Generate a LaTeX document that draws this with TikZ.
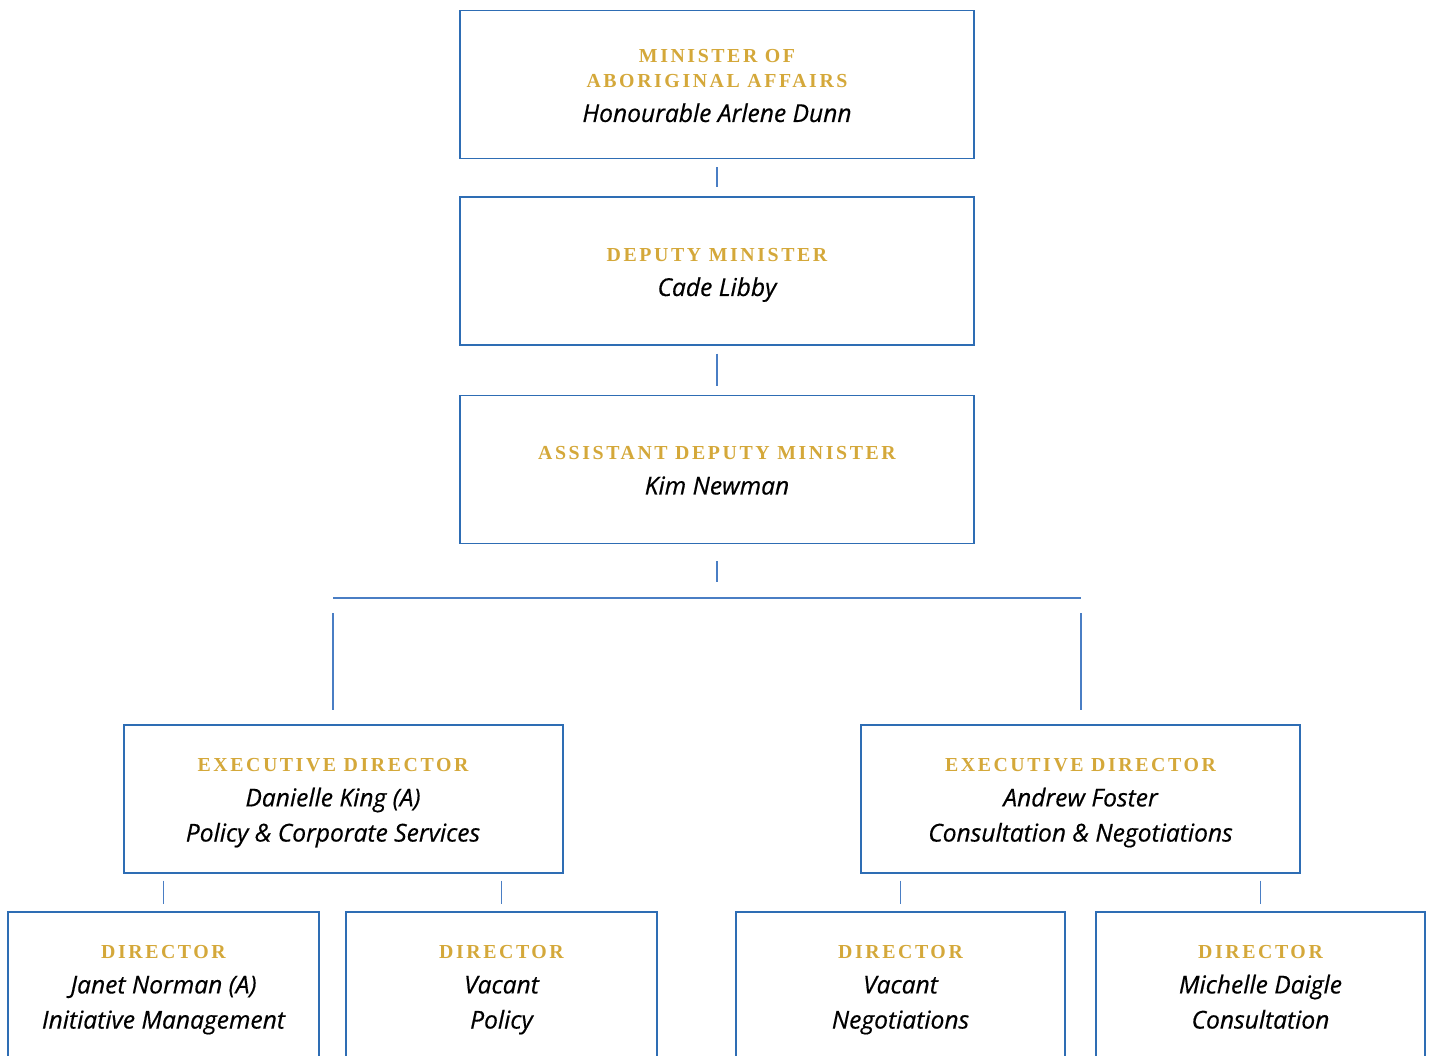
\documentclass[tikz,border=0pt]{standalone}
\usepackage{fontspec}
\setmainfont{Open Sans}
\newfontfamily\rolefont[LetterSpace=13]{Liberation Serif}
\newfontfamily\whofont[FakeBold=0.5]{Open Sans}
\usetikzlibrary{positioning}
\definecolor{rolegold}{HTML}{D4A83A}
\definecolor{boxblue}{HTML}{2E6DB4}
\definecolor{linkblue}{HTML}{4A7EC4}
\newcommand\role[1]{{\rolefont\bfseries\fontsize{11.3}{14.2}\selectfont\color{rolegold}\rule{0pt}{12pt}#1}}
\newcommand\who[1]{{\whofont\itshape\fontsize{14}{14.2}\selectfont #1\vphantom{Ag}}}
\tikzset{main box/.style={draw=boxblue,line width=0.8pt,minimum width=#1*0.02cm,minimum height=148*0.02cm,align=center,inner sep=0pt,font=\fontsize{10.8}{14.2}\selectfont},
  box text/.style={align=center,inner sep=0pt,font=\fontsize{10.8}{14.2}\selectfont},
  link/.style={draw=linkblue,line width=0.6pt},
}

\begin{document}
\begin{tikzpicture}[x=0.02cm,y=-0.02cm]
		\useasboundingbox (0,0) rectangle (1430,1055);
		\clip (0,0) rectangle (1430,1055);
		\node[main box=514] (min) at (717,84.5) {\role{MINISTER OF}\\\role{ABORIGINAL AFFAIRS}\\[5.6pt]\who{Honourable Arlene Dunn}};
		\node[main box=514] (dep) at (717,271) {\role{DEPUTY MINISTER}\\[5.6pt]\who{Cade Libby}};
		\node[main box=514] (adm) at (717,469.5) {\role{ASSISTANT DEPUTY MINISTER}\\[5.6pt]\who{Kim Newman}};
		\node[main box=439] (edl) at (343.5,799) {};
		\node[box text] (edltext) at (333,799) {\role{EXECUTIVE DIRECTOR}\\[5.6pt]\who{Danielle King (A)}\\[5.8pt]\who{Policy \& Corporate Services}};
		\node[main box=439] (edr) at (1080.5,799) {\role{EXECUTIVE DIRECTOR}\\[5.6pt]\who{Andrew Foster}\\[5.8pt]\who{Consultation \& Negotiations}};
		\node[main box=311] (dira) at (163.5,986) {\role{DIRECTOR}\\[5.6pt]\who{Janet Norman (A)}\\[5.8pt]\who{Initiative Management}};
		\node[main box=311] (dirb) at (501.5,986) {\role{DIRECTOR}\\[5.6pt]\who{Vacant}\\[5.8pt]\who{Policy}};
		\node[main box=329] (dirc) at (900.5,986) {\role{DIRECTOR}\\[5.6pt]\who{Vacant}\\[5.8pt]\who{Negotiations}};
		\node[main box=329] (dird) at (1260.5,986) {\role{DIRECTOR}\\[5.6pt]\who{Michelle Daigle}\\[5.8pt]\who{Consultation}};
		
		\coordinate (busl) at (333,598);
		\coordinate (busr) at (1081,598);
		
		\path[link,shorten <=0.16cm,shorten >=0.18cm]
		(min) edge (dep)
		(dep) edge (adm);
		\draw[link,shorten <=0.34cm,shorten >=0.32cm] (adm.south) -- (adm.south |- busl);
		\draw[link] (busl) -- (busr);
		\path[link,shorten <=0.3cm,shorten >=0.28cm]
		(busl) edge (busl |- edl.north)
		(busr) edge (busr |- edr.north);
		\path[link,shorten <=0.14cm,shorten >=0.14cm]
		(dira.north |- edl.south) edge (dira.north)
		(dirb.north |- edl.south) edge (dirb.north)
		(dirc.north |- edr.south) edge (dirc.north)
		(dird.north |- edr.south) edge (dird.north);
		
	\end{tikzpicture}
\end{document}
